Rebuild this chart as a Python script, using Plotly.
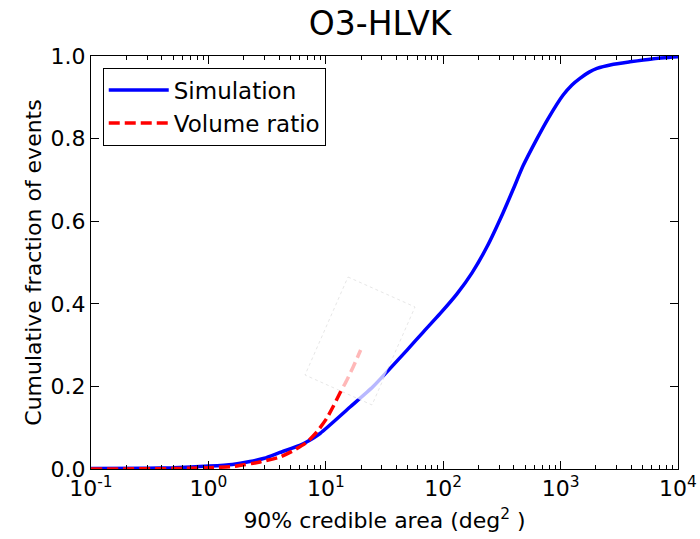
import plotly.graph_objects as go

# ---- data ----
sim_area = [0.1, 0.3, 0.5, 1.01, 1.6, 2.26, 3.0, 4.07, 6.0, 6.92, 8.93, 16.1, 25.2, 35.2, 49.2,
            67.3, 94.0, 131, 176, 236, 323, 393, 479, 630, 781, 1047, 1250, 1462, 1750, 2042,
            2700, 3899, 6000, 10000]
sim_frac = [0.001, 0.002, 0.003, 0.007, 0.011, 0.018, 0.026, 0.040, 0.057, 0.066, 0.086,
            0.150, 0.199, 0.243, 0.288, 0.331, 0.376, 0.424, 0.475, 0.538, 0.620, 0.676,
            0.734, 0.800, 0.848, 0.905, 0.930, 0.946, 0.961, 0.970, 0.979, 0.986, 0.993,
            0.998]

vol_area = [0.1, 0.5, 1.0, 1.62, 2.75, 4.07, 5.25, 6.92, 8.41, 10.2, 11.5, 13.2, 15.1, 17.1, 19.8]
vol_frac = [0.0, 0.001, 0.003, 0.006, 0.017, 0.029, 0.044, 0.065, 0.090, 0.123, 0.150, 0.184,
            0.215, 0.247, 0.288]

x_tick_exps = [-1, 0, 1, 2, 3, 4]
x_tick_text = ["10<sup>%d</sup>" % e for e in x_tick_exps]
y_tick_vals = [0.0, 0.2, 0.4, 0.6, 0.8, 1.0]
y_tick_text = ["0.0", "0.2", "0.4", "0.6", "0.8", "1.0"]

minor_vals = [m * 10.0 ** e for e in x_tick_exps[:-1] for m in range(2, 10)]

FONT = "DejaVu Sans"

fig = go.Figure()
fig.add_trace(go.Scatter(x=sim_area, y=sim_frac, mode="lines", name="Simulation",
                         line=dict(color="#0000ff", width=3.5, shape="spline", smoothing=0.6)))
fig.add_trace(go.Scatter(x=vol_area, y=vol_frac, mode="lines", name="Volume ratio",
                         line=dict(color="#ff0000", width=3.5, dash="11px,5px", shape="spline",
                                   smoothing=0.5)))

# faint semi-transparent box artifact seen in the reference
fig.add_shape(type="path", xref="paper", yref="paper",
              path="M 0.4378 0.4649 L 0.5520 0.3923 L 0.4787 0.1550 L 0.3646 0.2276 Z",
              fillcolor="rgba(255,255,255,0.72)",
              line=dict(color="rgba(200,200,200,0.9)", width=0.5, dash="dot"),
              layer="above")

axis_common = dict(showline=True, linecolor="black", linewidth=1, mirror="ticks",
                   ticks="inside", tickcolor="black", showgrid=False, zeroline=False,
                   automargin=False,
                   tickfont=dict(family=FONT, size=22, color="black"))

fig.update_xaxes(type="log", range=[-1, 4], tickmode="array",
                 tickvals=[10.0 ** e for e in x_tick_exps], ticktext=x_tick_text,
                 ticklen=8,
                 minor=dict(tickmode="array", tickvals=minor_vals, ticks="inside",
                            ticklen=4, tickcolor="black", showgrid=False),
                 title=dict(text="90% credible area (deg<sup>2</sup> )",
                            font=dict(family=FONT, size=22, color="black"), standoff=12),
                 **axis_common)
fig.update_yaxes(range=[0, 1], tickmode="array", tickvals=y_tick_vals, ticktext=y_tick_text,
                 ticklen=8,
                 title=dict(text="Cumulative fraction of events",
                            font=dict(family=FONT, size=22, color="black"), standoff=2),
                 **axis_common)

fig.update_layout(
    width=700, height=539,
    margin=dict(l=91, r=22, t=56, b=70),
    paper_bgcolor="white", plot_bgcolor="white",
    title=dict(text="O3-HLVK", x=0.543, xanchor="center", xref="container",
               y=0.957, yanchor="middle", yref="container",
               font=dict(family=FONT, size=33, color="black")),
    font=dict(family=FONT, color="black"),
    legend=dict(x=0.02, y=0.972, xanchor="left", yanchor="top",
                bordercolor="black", borderwidth=1, bgcolor="white",
                font=dict(family=FONT, size=23, color="black"),
                itemwidth=60, tracegroupgap=0),
    showlegend=True,
)

fig.write_html("out.html", config={"displayModeBar": False},
               post_script="document.body.style.margin='0px';document.body.style.padding='0px';")
